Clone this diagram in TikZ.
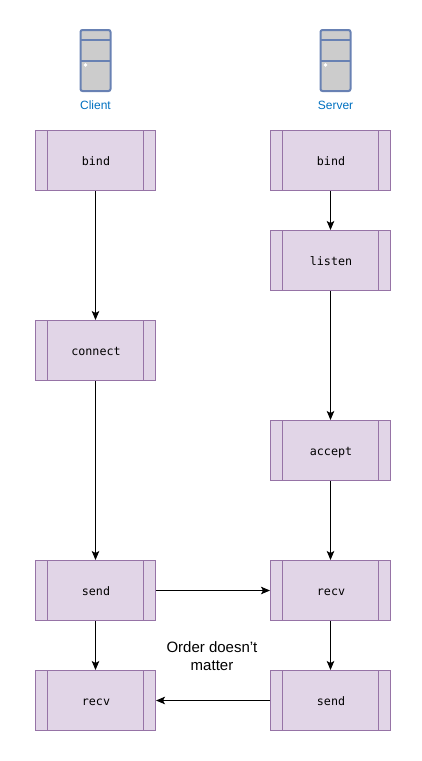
\documentclass[tikz,border=0pt]{standalone}
\usepackage{fontspec}
\setmainfont{Liberation Sans}
\setmonofont{DejaVu Sans Mono}
\usetikzlibrary{arrows.meta}
\definecolor{procfill}{HTML}{E1D5E7}
\definecolor{procline}{HTML}{9673A6}
\definecolor{srvfill}{HTML}{CCCCCC}
\definecolor{srvline}{HTML}{6881B3}
\definecolor{srvtext}{HTML}{0070C0}
\tikzset{
  procbox/.style={draw=procline,fill=procfill,line width=1pt,minimum width=120pt,minimum height=60pt,
    inner sep=0pt,font=\ttfamily\fontsize{11.7}{14}\selectfont,text=black,text height=9pt,text depth=0pt,
    path picture={
      \draw[procline,line width=1pt]
        ([xshift=12pt]path picture bounding box.north west) -- ([xshift=12pt]path picture bounding box.south west)
        ([xshift=-12pt]path picture bounding box.north east) -- ([xshift=-12pt]path picture bounding box.south east);
    }},
  flow/.style={draw=black,line width=1pt,-{Stealth[length=9pt,width=7.5pt,inset=2pt]}},
  srvbox/.style={draw=srvline,fill=srvfill,line width=2pt,rounded corners=2pt},
  srvrule/.style={draw=srvline,line width=2pt},
  srvlabel/.style={font=\fontsize{12}{14}\selectfont,text=srvtext,inner sep=0pt},
  note/.style={font=\fontsize{15}{18}\selectfont,align=center,inner sep=0pt,text=black}
}
\newcommand{\srvicon}[1]{
  \draw[srvbox] (#1-15,30) rectangle (#1+15,91);
  \draw[srvrule] (#1-15,40) -- (#1+15,40) (#1-15,60.5) -- (#1+15,60.5);
  \fill[white] (#1-10,65) circle (1.8);
}
\begin{document}
\begin{tikzpicture}[x=1pt,y=-1pt]
\useasboundingbox (0,0) rectangle (421,761);
\srvicon{95.5}
\srvicon{335.5}
\node[srvlabel] (clientlabel) at (95.5,105) {Client};
\node[srvlabel] (serverlabel) at (335.5,105) {Server};
\node[procbox] (cbind) at (95.5,160.5) {\hspace{1pt}bind};
\node[procbox] (cconnect) at (95.5,350.5) {\hspace{1pt}connect};
\node[procbox] (csend) at (95.5,590.5) {\hspace{1pt}send};
\node[procbox] (crecv) at (95.5,700.5) {\hspace{1pt}recv};
\node[procbox] (sbind) at (330.5,160.5) {\hspace{1pt}bind};
\node[procbox] (slisten) at (330.5,260.5) {\hspace{1pt}listen};
\node[procbox] (saccept) at (330.5,450.5) {\hspace{1pt}accept};
\node[procbox] (srecv) at (330.5,590.5) {\hspace{1pt}recv};
\node[procbox] (ssend) at (330.5,700.5) {\hspace{1pt}send};
\node[note] (order) at (212,656) {Order doesn{\char39}t\\matter};
\draw[flow] (cbind) -- (cconnect);
\draw[flow] (cconnect) -- (csend);
\draw[flow] (csend) -- (crecv);
\draw[flow] (sbind) -- (slisten);
\draw[flow] (slisten) -- (saccept);
\draw[flow] (saccept) -- (srecv);
\draw[flow] (srecv) -- (ssend);
\draw[flow] (csend) -- (srecv);
\draw[flow] (ssend) -- (crecv);
\end{tikzpicture}
\end{document}
